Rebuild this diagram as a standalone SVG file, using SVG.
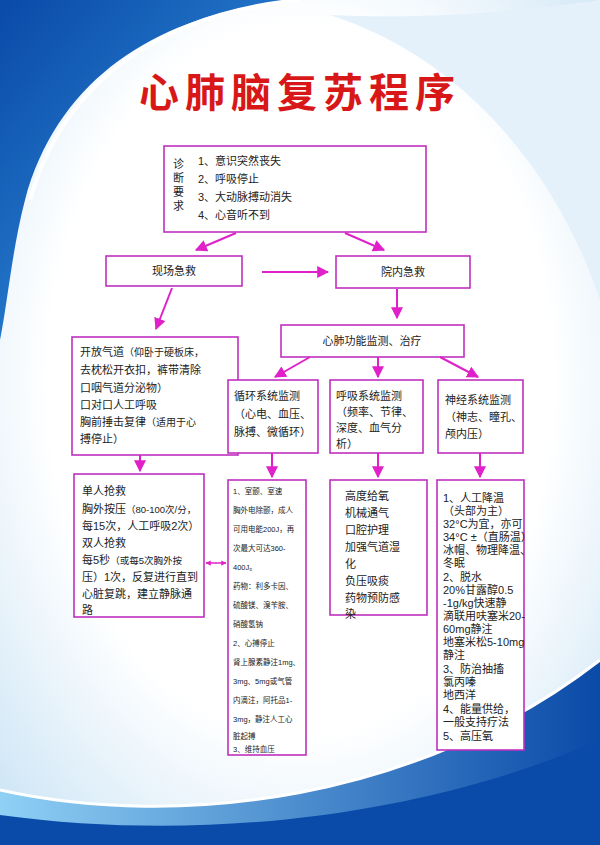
<svg xmlns="http://www.w3.org/2000/svg" width="600" height="845" viewBox="0 0 600 845">
<defs>
<linearGradient id="bg1" x1="0" y1="0" x2="1" y2="1"><stop offset="0" stop-color="#0a4aa8"/><stop offset="1" stop-color="#3aa0e8"/></linearGradient>
<linearGradient id="bg2" x1="0" y1="0" x2="1" y2="0"><stop offset="0" stop-color="#8fd0f5"/><stop offset="1" stop-color="#0a4aa8"/></linearGradient>
<radialGradient id="soft" cx="0.5" cy="0.45" r="0.7"><stop offset="0.6" stop-color="#fff"/><stop offset="1" stop-color="#cfe6f6"/></radialGradient>
<marker id="ah" viewBox="0 0 10 10" refX="9" refY="5" markerWidth="6" markerHeight="6" orient="auto-start-reverse"><path d="M0,0L10,5L0,10z" fill="#e020c8"/></marker>
<marker id="as" viewBox="0 0 10 10" refX="9" refY="5" markerWidth="3.5" markerHeight="3.5" orient="auto-start-reverse"><path d="M0,0L10,5L0,10z" fill="#e020c8"/></marker>
</defs>
<style>
.b{fill:#fff;stroke:#c030c0;stroke-width:1.6}
.t{font-family:"Liberation Sans","Noto Sans CJK SC",sans-serif;font-size:11px;fill:#222}
.s{font-family:"Liberation Sans","Noto Sans CJK SC",sans-serif;font-size:7.5px;fill:#222}
.c{stroke:#e020c8;stroke-width:2;fill:none;marker-end:url(#ah)}
</style>
<rect width="600" height="845" fill="url(#soft)"/>
<path d="M0,0H300C170,10 60,70 25,200C12,250 8,300 0,340Z" fill="url(#bg1)"/>
<path d="M300,0C170,12 65,75 30,200" stroke="#fff" stroke-width="4" fill="none"/>
<path d="M600,0V300C560,180 470,60 330,15C430,20 530,10 600,0Z" fill="#e4f1fb"/>
<path d="M0,790C180,830 420,800 600,660V845H0Z" fill="url(#bg2)"/>
<path d="M0,815C220,845 440,810 600,740V845H0Z" fill="#0a4aa8"/>
<path d="M0,790C180,830 420,800 600,660" stroke="#fff" stroke-width="3" fill="none"/>
<text x="300" y="107" text-anchor="middle" font-family="'Noto Sans CJK SC',sans-serif" font-size="40" font-weight="bold" fill="#d81818" letter-spacing="6">心肺脑复苏程序</text>
<g id="top"><rect class="b" x="164" y="146" width="262" height="86"/>
<text class="t" x="173" y="168">诊</text><text class="t" x="173" y="182">断</text><text class="t" x="173" y="196">要</text><text class="t" x="173" y="210">求</text>
<text class="t" x="198" y="165">1、意识突然丧失</text><text class="t" x="198" y="183">2、呼吸停止</text><text class="t" x="198" y="201">3、大动脉搏动消失</text><text class="t" x="198" y="219">4、心音听不到</text></g>
<g id="xc"><rect class="b" x="106" y="256" width="136" height="30"/><text class="t" x="174" y="275" text-anchor="middle">现场急救</text></g>
<g id="yn"><rect class="b" x="336" y="256" width="134" height="32"/><text class="t" x="403" y="276" text-anchor="middle">院内急救</text></g>
<g id="xf"><rect class="b" x="281" y="325" width="183" height="32"/><text class="t" x="372" y="345" text-anchor="middle">心肺功能监测、治疗</text></g>
<g id="kf"><rect class="b" x="72" y="337" width="166" height="118"/>
<text class="t" x="80" y="356">开放气道<tspan font-size="10">（仰卧于硬板床，</tspan></text>
<text class="t" font-size="10" x="80" y="374">去枕松开衣扣，裤带清除</text>
<text class="t" font-size="10" x="80" y="392">口咽气道分泌物）</text>
<text class="t" x="80" y="409">口对口人工呼吸</text>
<text class="t" x="80" y="426">胸前捶击复律<tspan font-size="10">（适用于心</tspan></text>
<text class="t" font-size="10" x="80" y="443">搏停止）</text></g>
<g id="xh"><rect class="b" x="228" y="380" width="90" height="73"/>
<text class="t" font-size="10" x="234" y="400">循环系统监测</text><text class="t" font-size="10" x="234" y="418">（心电、血压、</text><text class="t" font-size="10" x="234" y="436">脉搏、微循环）</text></g>
<g id="hx"><rect class="b" x="330" y="380" width="93" height="73"/>
<text class="t" font-size="10" x="336" y="400">呼吸系统监测</text><text class="t" font-size="10" x="336" y="416">（频率、节律、</text><text class="t" font-size="10" x="336" y="432">深度、血气分</text><text class="t" font-size="10" x="336" y="448">析）</text></g>
<g id="sj"><rect class="b" x="438" y="380" width="85" height="73"/>
<text class="t" font-size="10" x="445" y="404">神经系统监测</text><text class="t" font-size="10" x="445" y="421">（神志、瞳孔、</text><text class="t" font-size="10" x="445" y="438">颅内压）</text></g>
<g id="dr"><rect class="b" x="74" y="474" width="130" height="143"/>
<text class="t" x="82" y="495">单人抢救</text>
<text class="t" x="82" y="513">胸外按压<tspan font-size="9.5">（80-100次/分，</tspan></text>
<text class="t" font-size="9.5" x="82" y="530">每15次，人工呼吸2次）</text>
<text class="t" x="82" y="547">双人抢救</text>
<text class="t" x="82" y="564">每5秒<tspan font-size="9.5">（或每5次胸外按</tspan></text>
<text class="t" font-size="9.5" x="82" y="581">压）1次，反复进行直到</text>
<text class="t" font-size="9.5" x="82" y="598">心脏复跳，建立静脉通</text>
<text class="t" font-size="9.5" x="82" y="614">路</text></g>
<g id="sc"><rect class="b" x="228" y="480" width="78" height="275"/>
<text class="s" x="233" y="494">1、室颤、室速</text><text class="s" x="233" y="513">胸外电除颤，成人</text><text class="s" x="233" y="532">可用电能200J，再</text><text class="s" x="233" y="551">次最大可达360-</text><text class="s" x="233" y="570">400J。</text>
<text class="s" x="233" y="589">药物：利多卡因、</text><text class="s" x="233" y="608">硫酸镁、溴苄胺、</text><text class="s" x="233" y="627">硝酸氢钠</text>
<text class="s" x="233" y="646">2、心搏停止</text><text class="s" x="233" y="665">肾上腺素静注1mg、</text><text class="s" x="233" y="684">3mg、5mg或气管</text><text class="s" x="233" y="703">内滴注，阿托品1-</text><text class="s" x="233" y="722">3mg，静注人工心</text><text class="s" x="233" y="739">脏起搏</text><text class="s" x="233" y="752" visibility="hidden">.</text><text class="s" x="233" y="752">3、维持血压</text></g>
<g id="gd"><rect class="b" x="330" y="480" width="97" height="135"/>
<text class="t" font-size="10.5" x="345" y="500">高度给氧</text><text class="t" font-size="10.5" x="345" y="517">机械通气</text><text class="t" font-size="10.5" x="345" y="534">口腔护理</text><text class="t" font-size="10.5" x="345" y="551">加强气道湿</text><text class="t" font-size="10.5" x="345" y="568">化</text><text class="t" font-size="10.5" x="345" y="585">负压吸痰</text><text class="t" font-size="10.5" x="345" y="602">药物预防感</text><text class="t" font-size="10.5" x="345" y="618">染</text></g>
<g id="sjz"><rect class="b" x="437" y="480" width="87" height="270"/>
<g class="t" font-size="9.5">
<text x="443" y="502">1、人工降温</text><text x="443" y="515">（头部为主）</text><text x="443" y="528">32°C为宜，亦可</text><text x="443" y="541">34°C ±（直肠温）</text><text x="443" y="554">冰帽、物理降温、</text><text x="443" y="567">冬眠</text><text x="443" y="581">2、脱水</text><text x="443" y="594">20%甘露醇0.5</text><text x="443" y="607">-1g/kg快速静</text><text x="443" y="620">滴联用呋塞米20-</text><text x="443" y="633">60mg静注</text><text x="443" y="646">地塞米松5-10mg</text><text x="443" y="659">静注</text><text x="443" y="673">3、防治抽搐</text><text x="443" y="686">氯丙嗪</text><text x="443" y="699">地西洋</text><text x="443" y="713">4、能量供给，</text><text x="443" y="726">一般支持疗法</text><text x="443" y="740">5、高压氧</text></g></g>
<g id="connectors">
<path class="c" d="M236,233L196,250"/><path class="c" d="M345,233L384,250"/>
<path class="c" d="M262,272H328"/><path class="c" d="M397,289V318"/>
<path class="c" d="M172,288L156,329"/>
<path class="c" d="M310,357L275,377"/><path class="c" d="M378,357V377"/><path class="c" d="M440,357L478,377"/>
<path class="c" d="M140,455V471"/><path class="c" d="M272,453V477"/><path class="c" d="M378,453V477"/><path class="c" d="M480,453V477"/>
<path d="M206,563H226" stroke="#e020c8" stroke-width="1.5" fill="none" marker-start="url(#as)" marker-end="url(#as)"/>
</g>
</svg>
